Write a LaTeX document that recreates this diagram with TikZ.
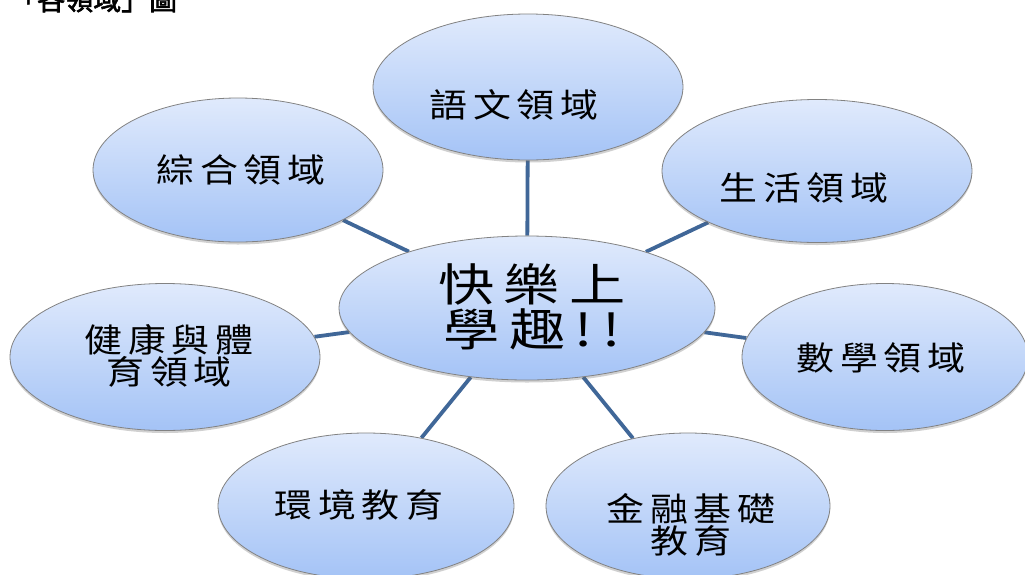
\documentclass[tikz,border=0pt]{standalone}
\usepackage{fontspec}
\usetikzlibrary{shapes.geometric,shadows,backgrounds}
\newfontfamily\cjkA[FakeStretch=1.15,LetterSpace=18]{Noto Sans CJK TC}
\newfontfamily\cjkB[FakeStretch=1.25,LetterSpace=21]{Noto Sans CJK TC}
\newfontfamily\cjkT[FakeBold=2]{Noto Sans CJK TC}
\definecolor{topblue}{RGB}{224,234,252}
\definecolor{botblue}{RGB}{164,195,246}
\definecolor{rimgray}{RGB}{130,130,130}
\definecolor{linkblue}{RGB}{64,103,152}
\tikzset{
  bubble/.style={ellipse, draw=rimgray, line width=0.8pt, inner sep=0pt,
    top color=topblue, bottom color=botblue,
    drop shadow={shadow xshift=0pt, shadow yshift=-2.5pt, opacity=0.3, fill=black!60}},
  label/.style={inner sep=0pt, align=center, text=black,
    font=\cjkA\fontsize{33}{32}\selectfont},
  biglabel/.style={inner sep=0pt, align=center, text=black,
    font=\cjkB\fontsize{45}{45}\selectfont},
  link/.style={draw=linkblue, line width=3.8pt}
}
\begin{document}
\begin{tikzpicture}[x=1pt,y=-1pt]
\useasboundingbox (0,0) rectangle (1025,574);
\clip (0,0) rectangle (1025,574);

% partially visible title at the top edge
\node[anchor=base west, inner sep=0pt, font=\cjkT\fontsize{28}{28}\selectfont] (title) at (9,10) {「各領域」圖};

% ellipses
\node[bubble, minimum width=310pt, minimum height=146pt] (yuwen) at (528,87) {};
\node[bubble, minimum width=290pt, minimum height=144pt] (zonghe) at (238,170) {};
\node[bubble, minimum width=310pt, minimum height=143pt] (shenghuo) at (817,171) {};
\node[bubble, minimum width=286pt, minimum height=147pt] (shuxue) at (885,357) {};
\node[bubble, minimum width=310pt, minimum height=147pt] (jiankang) at (165,357) {};
\node[bubble, minimum width=296pt, minimum height=146pt] (huanjing) at (366,506) {};
\node[bubble, minimum width=284pt, minimum height=146pt] (jinrong) at (688,506) {};
\node[bubble, minimum width=376pt, minimum height=144pt] (hub) at (527,308) {};

% connectors
\begin{scope}[on background layer]
\fill[white] (0,0) rectangle (1025,574);
\draw[link] (hub) -- (yuwen);
\draw[link] (hub) -- (zonghe);
\draw[link] (hub) -- (shenghuo);
\draw[link] (hub) -- (shuxue);
\draw[link] (hub) -- (jiankang);
\draw[link] (hub) -- (huanjing);
\draw[link] (hub) -- (jinrong);
\end{scope}

% texts
\node[label] (yuwen-t) at (514,105) {語文領域};
\node[label] (zonghe-t) at (241,170) {綜合領域};
\node[label] (shenghuo-t) at (804,188) {生活領域};
\node[label] (shuxue-t) at (881,358) {數學領域};
\node[label] (jiankang-t) at (169,356) {健康與體\\育領域};
\node[label] (huanjing-t) at (359,505) {環境教育};
\node[label] (jinrong-t) at (691,525) {金融基礎\\教育};
\node[biglabel] (hub-t) at (532,307) {快樂上\\學趣!!};
\end{tikzpicture}
\end{document}
